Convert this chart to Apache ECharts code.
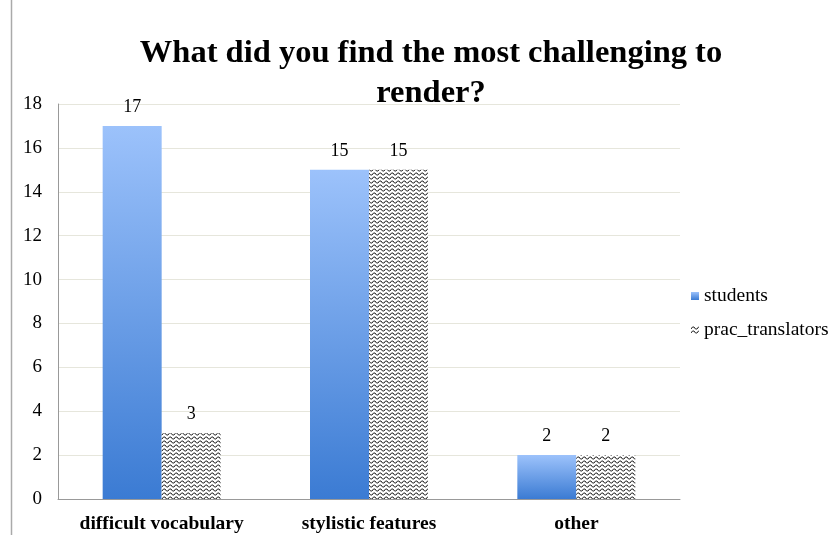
<!DOCTYPE html>
<html>
<head>
<meta charset="utf-8">
<script src="https://cdn.jsdelivr.net/npm/echarts@6/dist/echarts.min.js"></script>
<style>
  html, body { margin: 0; padding: 0; background: #fff; }
  #main { width: 829px; height: 535px; }
</style>
</head>
<body>
<div id="main"></div>
<script>
const categories = ['difficult vocabulary', 'stylistic features', 'other'];
const students = [17, 15, 2];
const pracTranslators = [3, 15, 2];
const yTicks = [0, 2, 4, 6, 8, 10, 12, 14, 16, 18];

// zigzag hatch used by the second series
function makeZigzag() {
  const c = document.createElement('canvas');
  c.width = 6;
  c.height = 4;
  const ctx = c.getContext('2d');
  ctx.fillStyle = '#fff';
  ctx.fillRect(0, 0, 6, 4);
  ctx.strokeStyle = '#222';
  ctx.lineWidth = 1;
  ctx.beginPath();
  ctx.moveTo(0, 3);
  ctx.lineTo(1.5, 1);
  ctx.lineTo(3, 1);
  ctx.lineTo(4.5, 3);
  ctx.lineTo(6, 3);
  ctx.stroke();
  return c;
}

const chart = echarts.init(document.getElementById('main'));
const serif = '"Liberation Serif", "Times New Roman", serif';

const option = {
  backgroundColor: '#fff',
  animation: false,
  title: {
    text: 'What did you find the most challenging to\nrender?',
    left: 426,
    textAlign: 'center',
    top: 29,
    textStyle: {
      fontFamily: serif,
      fontWeight: 'bold',
      fontSize: 32.5,
      lineHeight: 40,
      color: '#000'
    }
  },
  legend: {
    orient: 'vertical',
    left: 686,
    top: 281,
    icon: 'rect',
    itemWidth: 8,
    itemHeight: 8,
    itemGap: 14,
    textStyle: { fontFamily: serif, fontSize: 19.5, color: '#000' },
    data: ['students', 'prac_translators']
  },
  grid: { left: 58, right: 149, top: 104, bottom: 36 },
  xAxis: {
    type: 'category',
    data: categories,
    axisLine: { lineStyle: { color: '#999' } },
    axisTick: { show: false },
    axisLabel: {
      interval: 0,
      fontFamily: serif,
      fontWeight: 'bold',
      fontSize: 19.5,
      color: '#000',
      margin: 15
    }
  },
  yAxis: {
    type: 'value',
    min: 0,
    max: 18,
    interval: 2,
    axisLine: { show: true, lineStyle: { color: '#999' } },
    axisTick: { show: false },
    axisLabel: {
      fontFamily: serif,
      fontSize: 19,
      color: '#000',
      margin: 16,
      formatter: v => (yTicks.includes(v) ? String(v) : '')
    },
    splitLine: { lineStyle: { color: '#e6e6dc' } }
  },
  series: [
    {
      name: 'students',
      type: 'bar',
      data: students,
      barWidth: 59,
      barGap: '0%',
      itemStyle: {
        color: new echarts.graphic.LinearGradient(0, 0, 0, 1, [
          { offset: 0, color: '#9cc2fb' },
          { offset: 1, color: '#3b7bd3' }
        ])
      },
      label: {
        show: true,
        position: 'top',
        distance: 10,
        fontFamily: serif,
        fontSize: 18,
        color: '#000'
      }
    },
    {
      name: 'prac_translators',
      type: 'bar',
      data: pracTranslators,
      barWidth: 59,
      itemStyle: {
        color: { image: makeZigzag(), repeat: 'repeat' }
      },
      label: {
        show: true,
        position: 'top',
        distance: 10,
        fontFamily: serif,
        fontSize: 18,
        color: '#000'
      }
    }
  ],
  graphic: [
    {
      type: 'line',
      shape: { x1: 11.5, y1: 0, x2: 11.5, y2: 535 },
      style: { stroke: '#aaa', lineWidth: 1.5 }
    }
  ]
};

chart.setOption(option);
</script>
</body>
</html>
